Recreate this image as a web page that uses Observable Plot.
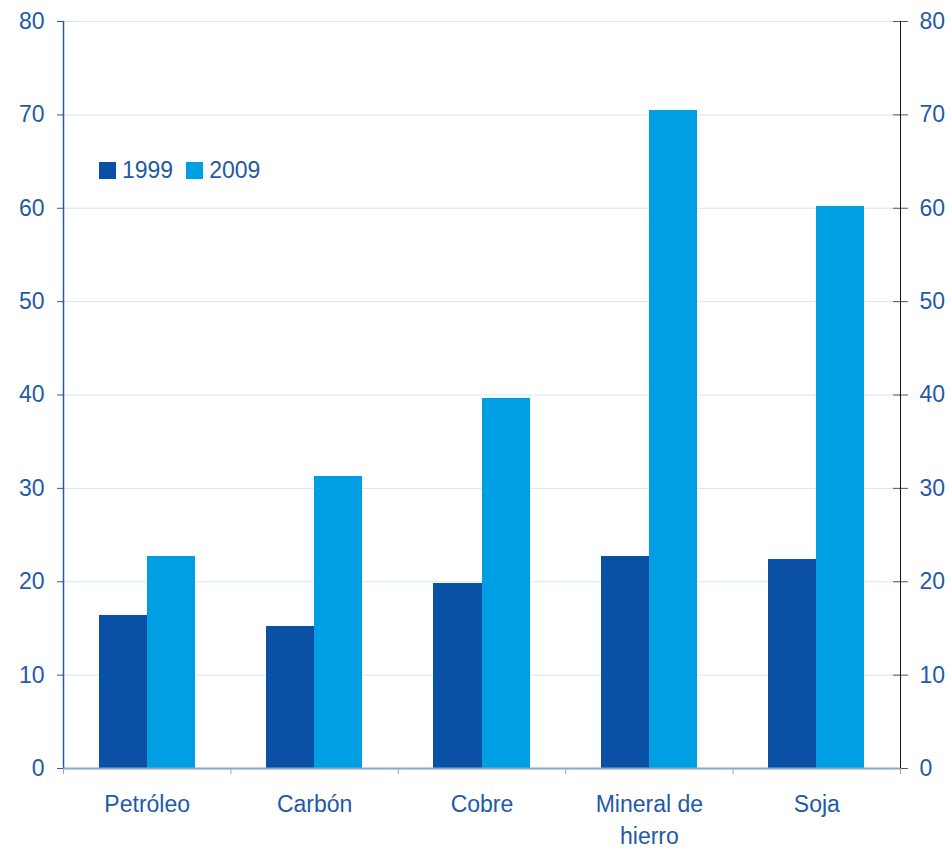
<!DOCTYPE html>
<html>
<head>
<meta charset="utf-8">
<script src="https://cdn.jsdelivr.net/npm/d3@7"></script>
<script src="https://cdn.jsdelivr.net/npm/@observablehq/plot@0.6"></script>
<style>
  body { margin: 0; background: #fff; font-family: "Liberation Sans", Arial, sans-serif; }
  #chart { position: relative; width: 945px; height: 848px; }
  .legend { position: absolute; left: 99px; top: 156px; display: flex; align-items: center;
            font-size: 23px; color: #1f5aa8; line-height: 28px; }
  .legend .sw { width: 17px; height: 17px; margin-right: 6px; }
  .legend .item { display: flex; align-items: center; margin-right: 13px; }
</style>
</head>
<body>
<div id="chart"></div>
<script>
// Commodity index values by product, 1999 vs 2009
const categories = ["Petróleo", "Carbón", "Cobre", "Mineral de\nhierro", "Soja"];
const years = ["1999", "2009"];
const values1999 = [16.4, 15.2, 19.8, 22.7, 22.4];
const values2009 = [22.7, 31.3, 39.6, 70.5, 60.2];
const yTicks = [0, 10, 20, 30, 40, 50, 60, 70, 80];
const colors = ["#0a51a5", "#009fe3"];

const textColor = "#1f5aa8";
const gap = 0.213;                 // empty share on each side of a group
const barW = (1 - 2 * gap) / 2;    // each bar's share of a category slot

const rows = categories.flatMap((c, i) => [
  { i, year: years[0], v: values1999[i] },
  { i, year: years[1], v: values2009[i] }
]);

const chart = Plot.plot({
  width: 945,
  height: 848,
  marginLeft: 63,
  marginRight: 45,
  marginTop: 21,
  marginBottom: 80,
  style: { fontFamily: '"Liberation Sans", Arial, sans-serif', background: "#fff" },
  x: { type: "linear", domain: [0, categories.length], axis: null, label: null },
  y: { domain: [0, 80], axis: null, label: null },
  color: { domain: years, range: colors },
  marks: [
    Plot.gridY(yTicks.filter(d => d > 0), { stroke: "#cfe8f5", strokeOpacity: 1 }),
    Plot.rectY(rows, {
      x1: d => d.i + gap + years.indexOf(d.year) * barW,
      x2: d => d.i + gap + (years.indexOf(d.year) + 1) * barW,
      y1: 0,
      y2: "v",
      fill: "year",
      shapeRendering: "crispEdges"
    }),
    // left axis
    Plot.ruleX([0], { stroke: "#2a5a9f", strokeWidth: 1.5 }),
    Plot.axisY({ anchor: "left", ticks: yTicks, tickSize: 6, tickPadding: 13, label: null,
                 fontSize: 23, fill: textColor, stroke: "#2a5a9f" }),
    // right axis
    Plot.ruleX([categories.length], { stroke: "#111" }),
    Plot.ruleY(yTicks, { y: d => d, x1: categories.length, x2: categories.length,
                         insetLeft: -7, stroke: "#555" }),
    Plot.axisY({ anchor: "right", ticks: yTicks, tickSize: 7, tickPadding: 12, label: null,
                 fontSize: 23, fill: textColor, stroke: "#555" }),
    // baseline with tick marks between categories
    Plot.ruleY([0], { stroke: "#8aa6cf", strokeWidth: 2 }),
    Plot.axisX({ anchor: "bottom", ticks: d3.range(categories.length + 1), label: null,
                 tickSize: 6, tickFormat: () => "", stroke: "#8aa6cf" }),
    Plot.text(categories, {
      x: (d, i) => i + 0.5,
      frameAnchor: "bottom",
      text: d => d,
      lineAnchor: "top",
      dy: 21,
      fontSize: 23,
      lineHeight: 1.39,
      fill: textColor
    })
  ]
});

const host = document.getElementById("chart");
host.appendChild(chart);

const legend = document.createElement("div");
legend.className = "legend";
years.forEach((y, k) => {
  const item = document.createElement("div");
  item.className = "item";
  const sw = document.createElement("span");
  sw.className = "sw";
  sw.style.background = colors[k];
  const label = document.createElement("span");
  label.textContent = y;
  item.append(sw, label);
  legend.appendChild(item);
});
host.appendChild(legend);
</script>
</body>
</html>
